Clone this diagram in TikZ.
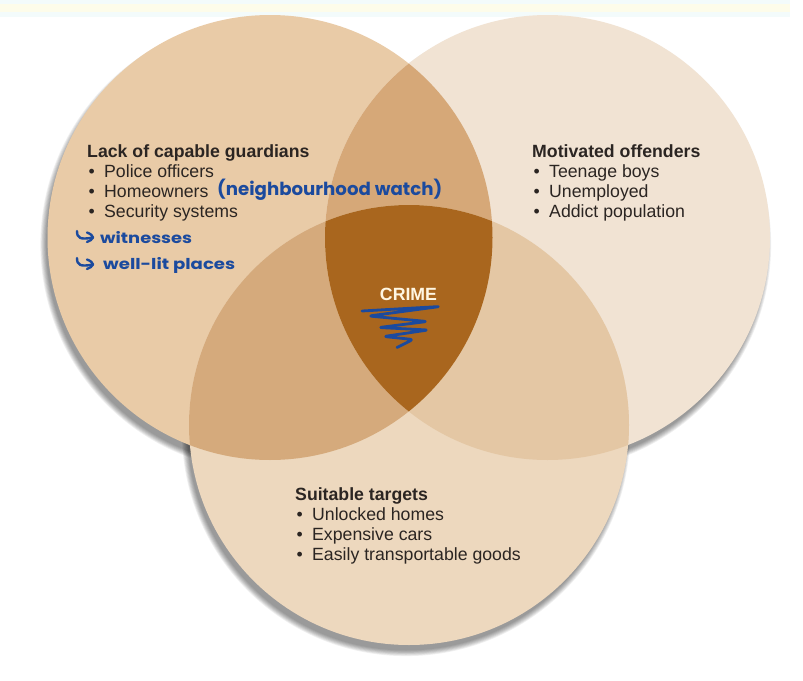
\documentclass[tikz,border=0pt]{standalone}
\usepackage{fontspec}
\usepackage{graphicx}
\setmainfont{Liberation Sans}
\newfontfamily\handfont{Poppins}
\definecolor{leftc}{HTML}{E9CBA7}
\definecolor{rightc}{HTML}{F1E3D3}
\definecolor{botc}{HTML}{EDD8BE}
\definecolor{lrc}{HTML}{D6A878}
\definecolor{lbc}{HTML}{D5AA7C}
\definecolor{rbc}{HTML}{E4C7A4}
\definecolor{crimec}{HTML}{A9661E}
\definecolor{textdark}{HTML}{2B2522}
\definecolor{inkblue}{HTML}{1B4A9E}
\definecolor{creamc}{HTML}{FFF6E2}
\definecolor{bandcyan}{HTML}{F3FBFB}
\definecolor{bandyellow}{HTML}{FDFCEA}
\newcommand\blt{\makebox[17pt][l]{\hspace{1.5pt}\textbullet}}
\begin{document}
\begin{tikzpicture}[x=1pt,y=-1pt,
  txt/.style={inner sep=0pt, anchor=base west, text=textdark, font=\fontsize{17.7}{20.2}\selectfont},
  crimelabel/.style={inner sep=0pt, anchor=base, text=creamc, font=\fontsize{17.7}{20.2}\selectfont\bfseries},
  hand/.style={inner sep=0pt, anchor=base west, text=inkblue, font=\handfont\bfseries\fontsize{18}{22}\selectfont},
  handsmall/.style={hand, font=\handfont\bfseries\fontsize{15}{18}\selectfont},
  inkline/.style={draw=inkblue, line width=2.4pt, line cap=round, line join=round},
  scribble/.style={draw=inkblue, line width=2.8pt, line cap=round, line join=round, rounded corners=3pt},
  shadowc/.style={fill=black, opacity=0.06}]
\useasboundingbox (0,0) rectangle (803,680);
\fill[white] (0,0) rectangle (803,680);
% faint top band
\fill[bandcyan] (0,0) rectangle (790,17);
\fill[bandyellow] (0,4) rectangle (790,12);
% circle centres
\coordinate (cL) at (270,237.5);
\coordinate (cR) at (547.5,237.5);
\coordinate (cB) at (409,425);
% soft shadows
\foreach \k in {0,...,7}{
  \fill[shadowc] ([shift={(-3,7)}]cL) circle[radius={221pt+0.8pt*\k}];
  \fill[shadowc] ([shift={(-3,7)}]cR) circle[radius={221pt+0.8pt*\k}];
  \fill[shadowc] ([shift={(-3,7)}]cB) circle[radius={218.5pt+0.8pt*\k}];
}
% circles
\fill[leftc] (cL) circle[radius=222.5pt];
\fill[rightc] (cR) circle[radius=222.5pt];
\fill[botc] (cB) circle[radius=220pt];
\begin{scope}
  \clip (cL) circle[radius=222.5pt];
  \fill[lrc] (cR) circle[radius=222.5pt];
  \fill[lbc] (cB) circle[radius=220pt];
\end{scope}
\begin{scope}
  \clip (cR) circle[radius=222.5pt];
  \fill[rbc] (cB) circle[radius=220pt];
\end{scope}
\begin{scope}
  \clip (cL) circle[radius=222.5pt];
  \clip (cR) circle[radius=222.5pt];
  \fill[crimec] (cB) circle[radius=220pt];
\end{scope}
% printed texts
\node[txt] (guardians) at (87,157) {\begin{tabular}[t]{@{}l@{}}\textbf{Lack of capable guardians}\\ \blt Police officers\\ \blt Homeowners\\ \blt Security systems\end{tabular}};
\node[txt] (offenders) at (532,157) {\begin{tabular}[t]{@{}l@{}}\textbf{Motivated offenders}\\ \blt Teenage boys\\ \blt Unemployed\\ \blt Addict population\end{tabular}};
\node[txt] (targets) at (295,500) {\begin{tabular}[t]{@{}l@{}}\textbf{Suitable targets}\\ \blt Unlocked homes\\ \blt Expensive cars\\ \blt Easily transportable goods\end{tabular}};
\node[crimelabel] (crime) at (408.5,300) {CRIME};
% handwritten notes
\node[hand] (watch) at (217,195) {\resizebox{225pt}{\height}{(neighbourhood watch)}};
\node[handsmall] (witnesses) at (100,243) {\resizebox{92pt}{\height}{witnesses}};
\node[handsmall] (places) at (103,269) {\resizebox{132pt}{\height}{well-lit places}};
% hand-drawn hook arrows
\foreach \dy in {0,27}{
  \draw[inkline] (77,231+\dy) .. controls (77,238+\dy) and (80,240+\dy) .. (93,237.5+\dy);
  \draw[inkline] (87,232.5+\dy) .. controls (91,234+\dy) and (93,236+\dy) .. (93,237.5+\dy)
                 .. controls (92,239.5+\dy) and (90,241+\dy) .. (87,242+\dy);
}
% scribble under CRIME
\draw[scribble] (362,311) -- (440,306.5) -- (369,316) -- (427,321.5) -- (379,327.5) -- (428,330) -- (384,336.5) -- (413,339.5) -- (397,347.5);
\end{tikzpicture}
\end{document}
